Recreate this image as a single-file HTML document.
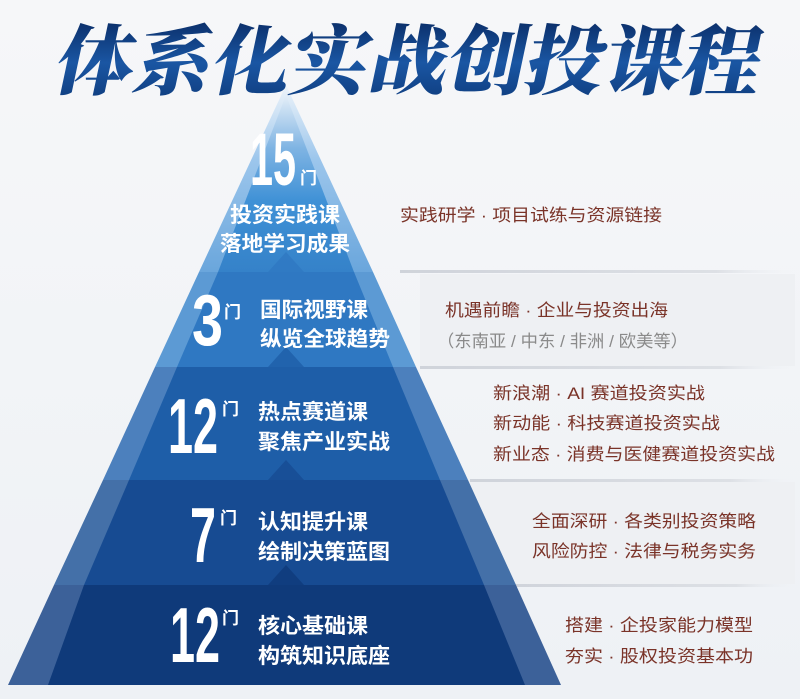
<!DOCTYPE html>
<html><head><meta charset="utf-8"><style>
html,body{margin:0;padding:0;background:#f3f5f8;}
svg{display:block;}
.cn{font-family:"Liberation Sans","Noto Sans CJK SC",sans-serif;}
.ser{font-family:"Liberation Serif","Noto Serif CJK SC",serif;}
</style></head><body>
<svg width="800" height="699" viewBox="0 0 800 699" xmlns="http://www.w3.org/2000/svg">
<defs>
<linearGradient id="bg" x1="0" y1="0" x2="0" y2="1">
<stop offset="0" stop-color="#f6f7f9"/><stop offset="1" stop-color="#eef1f5"/></linearGradient>
<linearGradient id="tg" x1="0" y1="0" x2="0" y2="1">
<stop offset="0" stop-color="#0b2f6a"/><stop offset="0.5" stop-color="#1a56a3"/><stop offset="1" stop-color="#0e3b7c"/></linearGradient>
<linearGradient id="top" x1="0" y1="0" x2="0" y2="1">
<stop offset="0" stop-color="#e4eef8"/><stop offset="0.3" stop-color="#7fb4e3"/><stop offset="0.6" stop-color="#3f91d6"/><stop offset="1" stop-color="#3582c9"/></linearGradient>
<linearGradient id="topS" x1="0" y1="0" x2="0" y2="1">
<stop offset="0" stop-color="#eef4fa"/><stop offset="0.4" stop-color="#9cc6ec"/><stop offset="1" stop-color="#6aa6dc"/></linearGradient>
<linearGradient id="ln" x1="0" y1="0" x2="1" y2="0">
<stop offset="0" stop-color="#cfd3da"/><stop offset="0.8" stop-color="#dde0e5"/><stop offset="1" stop-color="#eef1f5" stop-opacity="0"/></linearGradient>
</defs>
<rect width="800" height="699" fill="url(#bg)"/>

<rect x="420" y="274" width="375" height="92" fill="#eef0f3"/>
<rect x="470" y="482" width="325" height="102" fill="#eef0f3"/>
<rect x="400" y="270" width="395" height="3" fill="url(#ln)"/>
<rect x="420" y="366" width="375" height="3" fill="url(#ln)"/>
<rect x="470" y="479" width="325" height="3" fill="url(#ln)"/>
<rect x="500" y="584" width="295" height="3" fill="url(#ln)"/>

<polygon points="286,85 199,272 373,272" fill="url(#topS)"/>
<polygon points="286,95 218,272 354,272" fill="url(#top)"/>
<polygon points="199,272 373,272 416,367 155,367" fill="#5c9ad4"/>
<polygon points="218,272 354,272 393,367 177,367" fill="#2f78c2"/>
<polygon points="155,367 416,367 468,480 103,480" fill="#4c80bd"/>
<polygon points="177,367 393,367 440,480 129,480" fill="#1e5ea8"/>
<polygon points="103,480 468,480 516,585 54,585" fill="#4470a8"/>
<polygon points="129,480 440,480 484,585 84,585" fill="#174b92"/>
<polygon points="54,585 516,585 561,685 8,685" fill="#3c6199"/>
<polygon points="84,585 484,585 525,685 48,685" fill="#0f3a7a"/>

<polygon points="286,252 268,272 304,272" fill="#2f78c2" opacity="0.8"/>
<polygon points="286,347 268,367 304,367" fill="#1e5ea8" opacity="0.8"/>
<polygon points="286,460 268,480 304,480" fill="#174b92" opacity="0.8"/>
<polygon points="286,565 268,585 304,585" fill="#0f3a7a" opacity="0.8"/>

<g transform="translate(52,88) skewX(-12)">
<text x="0" y="0" class="ser" font-size="76" font-weight="900" fill="url(#tg)" textLength="705" lengthAdjust="spacingAndGlyphs">体系化实战创投课程</text>
</g>

<g fill="#fff" font-weight="bold">
<text x="250" y="185" font-family="Liberation Sans Narrow,Liberation Sans,sans-serif" font-size="74" textLength="46" lengthAdjust="spacingAndGlyphs">15</text>
<text x="192" y="345" font-family="Liberation Sans Narrow,Liberation Sans,sans-serif" font-size="72" textLength="31" lengthAdjust="spacingAndGlyphs">3</text>
<text x="168" y="453" font-family="Liberation Sans Narrow,Liberation Sans,sans-serif" font-size="78" textLength="50" lengthAdjust="spacingAndGlyphs">12</text>
<text x="190" y="562" font-family="Liberation Sans Narrow,Liberation Sans,sans-serif" font-size="78" textLength="26" lengthAdjust="spacingAndGlyphs">7</text>
<text x="170" y="662" font-family="Liberation Sans Narrow,Liberation Sans,sans-serif" font-size="78" textLength="50" lengthAdjust="spacingAndGlyphs">12</text>

<g class="cn" font-size="17">
<text x="300" y="184">门</text>
<text x="224" y="318">门</text>
<text x="222" y="415">门</text>
<text x="220" y="524">门</text>
<text x="222" y="624">门</text>
</g>

<g class="cn" font-size="21">
<text x="230" y="222" textLength="110" lengthAdjust="spacingAndGlyphs">投资实践课</text>
<text x="220" y="251" textLength="130" lengthAdjust="spacingAndGlyphs">落地学习成果</text>
<text x="260" y="317" textLength="108" lengthAdjust="spacingAndGlyphs">国际视野课</text>
<text x="260" y="346" textLength="130" lengthAdjust="spacingAndGlyphs">纵览全球趋势</text>
<text x="258" y="419" textLength="110" lengthAdjust="spacingAndGlyphs">热点赛道课</text>
<text x="258" y="449" textLength="132" lengthAdjust="spacingAndGlyphs">聚焦产业实战</text>
<text x="258" y="529" textLength="110" lengthAdjust="spacingAndGlyphs">认知提升课</text>
<text x="258" y="559" textLength="132" lengthAdjust="spacingAndGlyphs">绘制决策蓝图</text>
<text x="258" y="633" textLength="110" lengthAdjust="spacingAndGlyphs">核心基础课</text>
<text x="258" y="663" textLength="132" lengthAdjust="spacingAndGlyphs">构筑知识底座</text>
</g>
</g>

<g class="cn" font-size="17" fill="#7a3328">
<text x="400" y="221" textLength="262" lengthAdjust="spacingAndGlyphs">实践研学 · 项目试练与资源链接</text>
<text x="445" y="316" textLength="223" lengthAdjust="spacingAndGlyphs">机遇前瞻 · 企业与投资出海</text>
<text x="437" y="347" fill="#8a8a8a" textLength="251" lengthAdjust="spacingAndGlyphs">（东南亚 / 中东 / 非洲 / 欧美等）</text>
<text x="493" y="399" textLength="212" lengthAdjust="spacingAndGlyphs">新浪潮 · AI 赛道投资实战</text>
<text x="493" y="429" textLength="227" lengthAdjust="spacingAndGlyphs">新动能 · 科技赛道投资实战</text>
<text x="493" y="460" textLength="282" lengthAdjust="spacingAndGlyphs">新业态 · 消费与医健赛道投资实战</text>
<text x="532" y="527" textLength="224" lengthAdjust="spacingAndGlyphs">全面深研 · 各类别投资策略</text>
<text x="532" y="557" textLength="224" lengthAdjust="spacingAndGlyphs">风险防控 · 法律与税务实务</text>
<text x="565" y="631" textLength="188" lengthAdjust="spacingAndGlyphs">搭建 · 企投家能力模型</text>
<text x="565" y="662" textLength="188" lengthAdjust="spacingAndGlyphs">夯实 · 股权投资基本功</text>
</g>
</svg>
</body></html>
